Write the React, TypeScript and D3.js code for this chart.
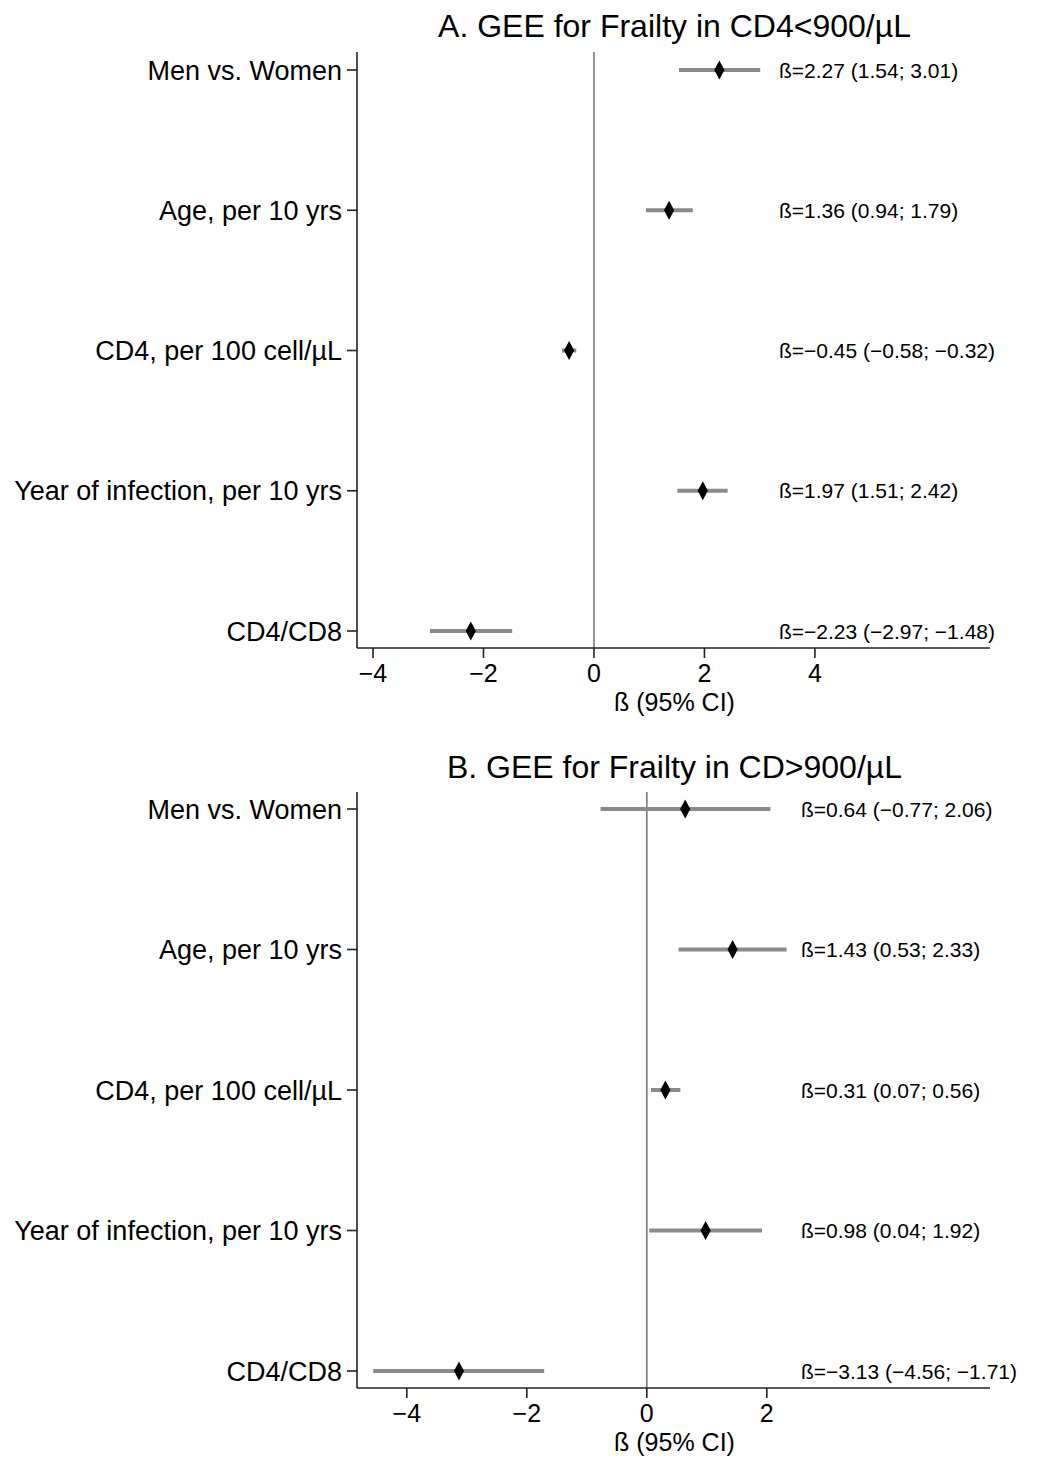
import React from 'react';
import * as d3 from 'd3';

// ---- data ----
const predictors = [
  'Men vs. Women',
  'Age, per 10 yrs',
  'CD4, per 100 cell/\u00b5L',
  'Year of infection, per 10 yrs',
  'CD4/CD8',
];

const estA = [2.27, 1.36, -0.45, 1.97, -2.23];
const lowA = [1.54, 0.94, -0.58, 1.51, -2.97];
const highA = [3.01, 1.79, -0.32, 2.42, -1.48];

const estB = [0.64, 1.43, 0.31, 0.98, -3.13];
const lowB = [-0.77, 0.53, 0.07, 0.04, -4.56];
const highB = [2.06, 2.33, 0.56, 1.92, -1.71];

const ticksA = [-4, -2, 0, 2, 4];
const ticksB = [-4, -2, 0, 2];

const titleA = 'A. GEE for Frailty in CD4<900/\u00b5L';
const titleB = 'B. GEE for Frailty in CD>900/\u00b5L';
const axisTitle = '\u00df (95% CI)';

const FONT = '"Liberation Sans", Arial, Helvetica, sans-serif';
const fmt = (v: number) => v.toFixed(2).replace('-', '\u2212');

interface PanelProps {
  title: string;
  est: number[];
  low: number[];
  high: number[];
  ticks: number[];
  domain: [number, number];
  top: number;      // spine top
  rowTop: number;   // first row centre
  rowBottom: number;
  axisY: number;
  titleY: number;
  annX: number;
}

function Panel(p: PanelProps) {
  const left = 357;
  const right = 990;
  const x = d3.scaleLinear().domain(p.domain).range([left, right]);
  const y = d3.scalePoint<string>().domain(predictors).range([p.rowTop, p.rowBottom]);
  const diamond = d3.symbol().type(d3.symbolDiamond).size(100)() as string;

  return (
    <g fontFamily={FONT}>
      <text x={(left + right) / 2 + 1} y={p.titleY} textAnchor="middle" fontSize={32}>{p.title}</text>

      {/* zero reference */}
      <line x1={x(0)} x2={x(0)} y1={p.top} y2={p.axisY} stroke="#7a7a7a" strokeWidth={1.6} />

      {/* y axis */}
      <line x1={left} x2={left} y1={p.top} y2={p.axisY} stroke="#222" strokeWidth={1.6} />
      {predictors.map(name => (
        <g key={name}>
          <line x1={left - 10} x2={left} y1={y(name)} y2={y(name)} stroke="#222" strokeWidth={1.6} />
          <text x={left - 15} y={(y(name) as number) + 9.5} textAnchor="end" fontSize={27}>{name}</text>
        </g>
      ))}

      {/* x axis */}
      <line x1={left} x2={right} y1={p.axisY} y2={p.axisY} stroke="#222" strokeWidth={1.6} />
      {p.ticks.map(t => (
        <g key={t}>
          <line x1={x(t)} x2={x(t)} y1={p.axisY} y2={p.axisY + 10} stroke="#222" strokeWidth={1.6} />
          <text x={x(t)} y={p.axisY + 34} textAnchor="middle" fontSize={25}>{String(t).replace('-', '\u2212')}</text>
        </g>
      ))}
      <text x={(left + right) / 2 + 1} y={p.axisY + 63} textAnchor="middle" fontSize={25}>{axisTitle}</text>

      {/* estimates */}
      {predictors.map((name, i) => {
        const cy = y(name) as number;
        return (
          <g key={name}>
            <line x1={x(p.low[i])} x2={x(p.high[i])} y1={cy} y2={cy} stroke="#8a8a8a" strokeWidth={4} />
            <path d={diamond} transform={`translate(${x(p.est[i])},${cy}) scale(0.95,1.03)`} fill="#000" />
            <text x={p.annX} y={cy + 7.5} fontSize={21}>
              {`\u00df=${fmt(p.est[i])} (${fmt(p.low[i])}; ${fmt(p.high[i])})`}
            </text>
          </g>
        );
      })}
    </g>
  );
}

export default function App() {
  return (
    <svg width={1037} height={1457} style={{ position: 'absolute', left: 0, top: 0, background: '#fff' }}>
      <rect width={1037} height={1457} fill="#fff" />
      <Panel
        title={titleA} est={estA} low={lowA} high={highA} ticks={ticksA}
        domain={[-4.29, 7.17]} top={52} rowTop={70} rowBottom={631} axisY={648}
        titleY={37} annX={779}
      />
      <Panel
        title={titleB} est={estB} low={lowB} high={highB} ticks={ticksB}
        domain={[-4.83, 5.72]} top={792} rowTop={809} rowBottom={1371} axisY={1388}
        titleY={778} annX={801}
      />
    </svg>
  );
}
